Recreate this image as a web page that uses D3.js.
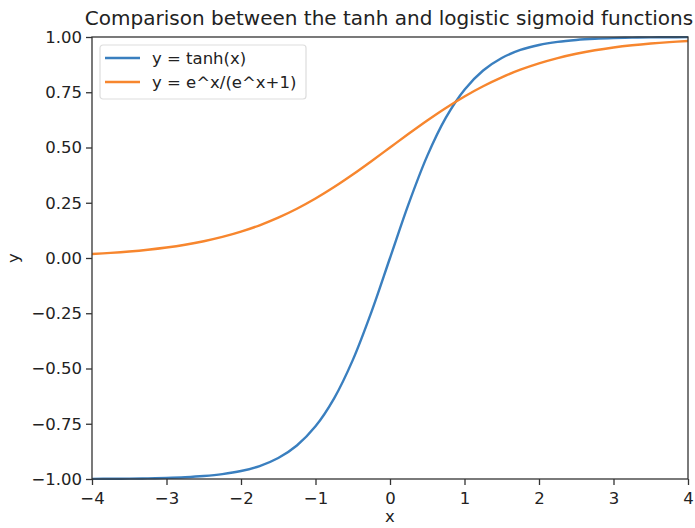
<!DOCTYPE html>
<html>
<head>
<meta charset="utf-8">
<script src="https://cdn.jsdelivr.net/npm/d3@7"></script>
<style>
  html, body { margin: 0; padding: 0; background: #fff; }
  svg { display: block; font-family: "DejaVu Sans", sans-serif; }
</style>
</head>
<body>
<svg id="chart" width="695" height="528"></svg>
<script>
// Sample points along x in [-4, 4]
const xs = [-4, -3.75, -3.5, -3.25, -3, -2.75, -2.5, -2.25, -2, -1.75, -1.5, -1.25, -1, -0.75, -0.5, -0.25,
            0, 0.25, 0.5, 0.75, 1, 1.25, 1.5, 1.75, 2, 2.25, 2.5, 2.75, 3, 3.25, 3.5, 3.75, 4];
// y = tanh(x)
const tanhY = [-0.9993, -0.9989, -0.9982, -0.9970, -0.9951, -0.9919, -0.9866, -0.9780, -0.9640, -0.9414, -0.9051, -0.8483, -0.7616, -0.6351, -0.4621, -0.2449,
               0, 0.2449, 0.4621, 0.6351, 0.7616, 0.8483, 0.9051, 0.9414, 0.9640, 0.9780, 0.9866, 0.9919, 0.9951, 0.9970, 0.9982, 0.9989, 0.9993];
// y = e^x/(e^x+1)
const logisticY = [0.0180, 0.0230, 0.0293, 0.0373, 0.0474, 0.0601, 0.0759, 0.0953, 0.1192, 0.1480, 0.1824, 0.2227, 0.2689, 0.3208, 0.3775, 0.4378,
                   0.5, 0.5622, 0.6225, 0.6792, 0.7311, 0.7773, 0.8176, 0.8520, 0.8808, 0.9047, 0.9241, 0.9399, 0.9526, 0.9627, 0.9707, 0.9770, 0.9820];
const seriesNames = ["y = tanh(x)", "y = e^x/(e^x+1)"];
const seriesColors = ["#3a7fbf", "#f7862e"];
const xTicks = [-4, -3, -2, -1, 0, 1, 2, 3, 4];
const yTicks = [-1, -0.75, -0.5, -0.25, 0, 0.25, 0.5, 0.75, 1];
const titleText = "Comparison between the tanh and logistic sigmoid functions";

const svg = d3.select("#chart");
const plot = { left: 92, top: 37, right: 688, bottom: 479 };

const x = d3.scaleLinear().domain([-4, 4]).range([plot.left, plot.right]);
const y = d3.scaleLinear().domain([-1, 1]).range([plot.bottom, plot.top]);

const minus = s => s.replace("-", "\u2212");

// lines
const series = [tanhY, logisticY];
const line = d3.line()
  .x((d, i) => x(xs[i]))
  .y(d => y(d))
  .curve(d3.curveCatmullRom.alpha(0.5));

svg.append("defs").append("clipPath").attr("id", "clip")
  .append("rect").attr("x", plot.left).attr("y", plot.top - 2)
  .attr("width", plot.right - plot.left).attr("height", plot.bottom - plot.top + 4);

svg.append("g").attr("clip-path", "url(#clip)")
  .selectAll("path").data(series).join("path")
  .attr("d", d => line(d))
  .attr("fill", "none")
  .attr("stroke", (d, i) => seriesColors[i])
  .attr("stroke-width", 2.4)
  .attr("stroke-linejoin", "round")
  .attr("stroke-linecap", "butt");

// axes
const xAxis = d3.axisBottom(x).tickValues(xTicks).tickSize(6).tickPadding(7)
  .tickFormat(d => minus(d3.format("d")(d)));
const yAxis = d3.axisLeft(y).tickValues(yTicks).tickSize(6).tickPadding(4)
  .tickFormat(d => minus(d3.format(".2f")(d)));

const gx = svg.append("g").attr("transform", `translate(0,${plot.bottom})`).call(xAxis);
const gy = svg.append("g").attr("transform", `translate(${plot.left},0)`).call(yAxis);
[gx, gy].forEach(g => {
  g.select(".domain").remove();
  g.selectAll(".tick line").attr("stroke", "#333").attr("stroke-width", 1.3);
  g.selectAll(".tick text").attr("fill", "#222").style("font-size", "16.5px")
    .style("font-family", "DejaVu Sans, sans-serif");
});

// frame
svg.append("rect")
  .attr("x", plot.left).attr("y", plot.top)
  .attr("width", plot.right - plot.left).attr("height", plot.bottom - plot.top)
  .attr("fill", "none").attr("stroke", "#333").attr("stroke-width", 1.3);

// title and axis labels
svg.append("text").attr("x", (plot.left + plot.right) / 2 - 1).attr("y", 25)
  .attr("text-anchor", "middle").attr("fill", "#222")
  .style("font-size", "20px").text(titleText);
svg.append("text").attr("x", x(0)).attr("y", 522)
  .attr("text-anchor", "middle").attr("fill", "#222")
  .style("font-size", "16.5px").text("x");
svg.append("text").attr("transform", `translate(19,${y(0)}) rotate(-90)`)
  .attr("text-anchor", "middle").attr("fill", "#222")
  .style("font-size", "16.5px").text("y");

// legend
const legend = svg.append("g").attr("transform", `translate(100,45)`);
legend.append("rect").attr("width", 206).attr("height", 54).attr("rx", 3)
  .attr("fill", "#fff").attr("fill-opacity", 0.8).attr("stroke", "#ddd").attr("stroke-width", 1.2);
const items = legend.selectAll("g.item").data(seriesNames).join("g").attr("class", "item")
  .attr("transform", (d, i) => `translate(5,${13 + i * 24})`);
items.append("line").attr("x1", 0).attr("x2", 35).attr("y1", 0).attr("y2", 0)
  .attr("stroke", (d, i) => seriesColors[i]).attr("stroke-width", 2.4);
items.append("text").attr("x", 47).attr("y", 6).attr("fill", "#222")
  .style("font-size", "16.5px").text(d => d);
</script>
</body>
</html>
